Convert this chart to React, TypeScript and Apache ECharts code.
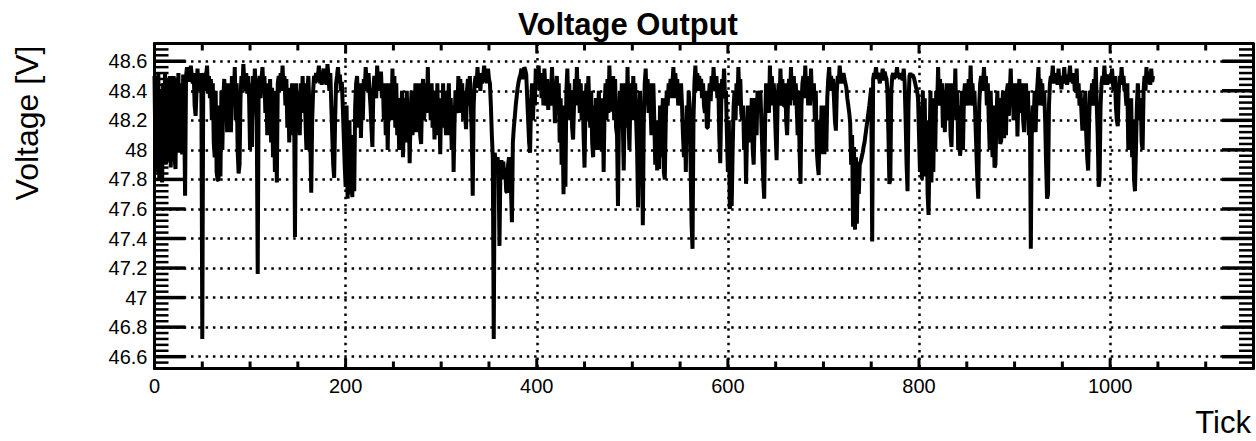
import React, { useEffect, useRef } from "react";
import * as echarts from "echarts";

// Voltage samples [V], one per tick
const volts000 = [
  48.50, 47.95, 48.45, 47.85, 48.52, 47.80, 48.40, 47.90, 47.78, 48.45,
  47.95, 48.52, 47.90, 48.48, 48.00, 47.92, 48.50, 47.88, 48.45, 47.95,
  48.50, 47.95, 47.87, 48.49, 48.00, 48.52, 47.98, 48.45, 48.05, 47.97,
  48.51, 48.30, 47.69, 48.50, 48.56, 48.48, 48.53, 48.46, 48.57, 48.50,
  48.45, 48.52, 48.30, 48.23, 48.40, 48.55, 48.42, 48.48, 48.40, 48.52,
  46.72, 48.45, 48.52, 48.40, 48.50, 48.57, 48.38, 48.50, 48.35, 48.48,
  48.20, 48.45, 48.05, 47.95, 48.40, 47.85, 47.80, 47.79, 48.30, 47.82,
  48.40, 48.00, 48.35, 48.48, 48.30, 48.45, 48.12, 48.40, 48.15, 48.45,
  48.12, 48.50, 48.35, 48.30, 48.56, 48.20, 48.45, 48.00, 47.84, 47.90,
  48.35, 48.50, 48.42, 48.58, 48.45, 48.40, 48.52, 48.38, 48.50, 48.35,
];
const volts100 = [
  48.00, 48.45, 48.02, 48.50, 48.30, 48.55, 48.38, 48.20, 47.16, 48.45,
  48.50, 48.35, 48.48, 48.56, 48.40, 48.50, 48.25, 48.45, 48.10, 48.38,
  48.20, 48.48, 48.05, 48.42, 47.95, 48.30, 47.85, 48.40, 47.78, 48.45,
  48.50, 48.40, 48.52, 48.42, 48.57, 48.40, 48.50, 48.30, 48.48, 48.15,
  48.42, 48.05, 48.40, 48.20, 48.45, 48.10, 48.38, 47.41, 48.45, 48.30,
  48.40, 48.30, 48.10, 48.45, 48.30, 48.50, 48.25, 48.45, 48.20, 48.00,
  48.40, 48.50, 48.30, 48.10, 47.71, 48.20, 48.40, 48.50, 48.45, 48.52,
  48.46, 48.50, 48.57, 48.45, 48.51, 48.44, 48.50, 48.55, 48.45, 48.50,
  48.44, 48.58, 48.50, 48.40, 48.52, 48.30, 48.10, 47.90, 47.81, 48.20,
  48.45, 48.50, 48.56, 48.45, 48.51, 48.40, 48.46, 48.30, 48.10, 47.90,
];
const volts200 = [
  47.75, 48.30, 47.67, 47.80, 48.20, 47.70, 47.90, 47.68, 48.10, 47.72,
  48.30, 48.45, 48.50, 48.30, 48.15, 48.45, 48.08, 48.35, 48.20, 48.48,
  48.40, 48.56, 48.45, 48.40, 48.52, 48.40, 48.30, 48.15, 48.02, 48.40,
  48.50, 48.40, 48.35, 48.57, 48.45, 48.50, 48.40, 48.53, 48.35, 48.45,
  48.20, 48.40, 48.10, 48.45, 48.00, 48.35, 48.23, 48.45, 48.20, 48.55,
  48.25, 48.50, 48.15, 48.45, 48.10, 48.35, 48.00, 48.30, 48.10, 48.40,
  47.95, 48.20, 48.35, 48.05, 48.40, 48.10, 48.30, 47.91, 48.25, 48.40,
  48.10, 48.30, 48.15, 48.45, 48.12, 48.35, 48.15, 48.45, 48.10, 48.04,
  48.35, 48.48, 48.20, 48.30, 48.45, 48.25, 48.56, 48.30, 48.45, 48.20,
  48.45, 48.15, 48.35, 48.07, 48.40, 48.15, 48.45, 48.10, 48.30, 47.97,
];
const volts300 = [
  48.35, 48.15, 48.45, 48.15, 48.30, 48.10, 48.40, 48.20, 48.45, 48.10,
  48.35, 48.00, 48.30, 47.85, 48.20, 48.40, 48.25, 48.30, 48.50, 48.25,
  48.48, 48.30, 48.45, 48.20, 48.40, 48.25, 48.14, 48.40, 48.48, 48.30,
  48.50, 48.30, 48.10, 47.69, 48.30, 48.45, 48.50, 48.42, 48.56, 48.45,
  48.50, 48.40, 48.52, 48.45, 48.50, 48.57, 48.46, 48.51, 48.45, 48.55,
  48.48, 48.45, 48.30, 48.10, 47.95, 46.72, 47.98, 47.92, 47.90, 47.95,
  47.88, 47.35, 47.90, 47.93, 47.85, 47.92, 47.80, 47.88, 47.72, 47.71,
  47.90, 47.95, 47.85, 47.75, 47.51, 48.05, 48.15, 48.22, 48.30, 48.36,
  48.42, 48.46, 48.49, 48.51, 48.55, 48.48, 48.50, 48.56, 48.54, 48.51,
  48.35, 48.20, 48.05, 47.98, 48.30, 48.45, 48.20, 48.40, 48.30, 48.55,
];
const volts400 = [
  48.52, 48.45, 48.57, 48.40, 48.52, 48.35, 48.50, 48.30, 48.55, 48.40,
  48.30, 48.48, 48.27, 48.45, 48.30, 48.40, 48.56, 48.30, 48.45, 48.18,
  48.40, 48.50, 48.30, 48.45, 48.05, 48.35, 47.90, 48.20, 47.70, 48.30,
  47.75, 48.40, 48.55, 48.30, 48.45, 48.20, 48.40, 48.15, 48.07, 48.30,
  48.48, 48.30, 48.56, 48.35, 48.48, 48.25, 48.45, 48.20, 48.40, 48.10,
  47.88, 48.30, 48.45, 48.20, 48.50, 48.30, 48.15, 48.40, 48.05, 47.95,
  48.30, 48.10, 48.35, 48.00, 48.20, 48.40, 48.00, 48.25, 48.10, 48.35,
  47.85, 48.30, 48.45, 48.20, 48.48, 48.25, 48.57, 48.30, 48.26, 48.45,
  48.50, 48.20, 48.48, 48.15, 48.10, 47.62, 48.20, 48.40, 48.15, 48.45,
  48.20, 47.86, 48.30, 48.45, 48.15, 48.56, 48.20, 48.00, 48.35, 48.45,
];
const volts500 = [
  48.20, 48.50, 48.30, 48.45, 48.20, 48.00, 47.61, 48.20, 48.40, 48.10,
  48.00, 47.49, 48.20, 48.45, 48.55, 48.30, 48.48, 48.25, 48.45, 48.30,
  48.10, 48.40, 48.45, 48.20, 47.90, 48.20, 47.86, 48.10, 47.87, 48.30,
  47.95, 48.20, 48.35, 47.85, 47.80, 48.20, 48.40, 48.30, 48.45, 48.35,
  48.48, 48.35, 48.45, 48.56, 48.35, 48.52, 48.40, 48.48, 48.30, 48.45,
  48.35, 48.45, 48.30, 48.10, 47.95, 48.20, 47.85, 48.30, 48.10, 48.40,
  48.30, 47.90, 47.50, 47.33, 48.20, 48.45, 48.57, 48.42, 48.52, 48.40,
  48.50, 48.40, 48.48, 48.35, 48.45, 48.30, 48.25, 48.40, 48.15, 48.15,
  48.35, 48.45, 48.33, 48.50, 48.40, 48.56, 48.42, 48.40, 48.50, 48.35,
  48.45, 48.10, 47.91, 48.30, 48.48, 48.40, 48.55, 48.35, 48.40, 48.10,
];
const volts600 = [
  47.85, 48.20, 47.60, 47.65, 47.62, 48.00, 48.30, 48.40, 48.20, 48.45,
  48.30, 48.56, 48.35, 48.48, 48.25, 48.20, 48.30, 48.00, 48.20, 47.77,
  48.10, 48.30, 48.05, 48.25, 48.15, 48.35, 48.00, 47.90, 48.20, 48.35,
  48.10, 48.40, 48.25, 48.35, 48.40, 48.20, 48.00, 47.80, 47.67, 48.20,
  48.45, 48.30, 48.40, 48.25, 48.57, 48.30, 48.50, 48.35, 48.45, 48.30,
  48.10, 47.93, 48.30, 48.45, 48.30, 48.55, 48.35, 48.48, 48.30, 48.30,
  48.45, 48.20, 48.10, 48.35, 48.48, 48.30, 48.56, 48.35, 48.35, 48.50,
  48.30, 48.45, 48.30, 48.10, 48.40, 48.00, 47.77, 48.30, 48.45, 48.50,
  48.35, 48.57, 48.35, 48.50, 48.30, 48.48, 48.30, 48.55, 48.35, 48.35,
  48.45, 48.20, 48.40, 48.00, 47.90, 47.83, 48.20, 48.00, 48.30, 47.97,
];
const volts700 = [
  48.30, 47.97, 48.20, 48.00, 48.35, 48.48, 48.56, 48.40, 48.50, 48.40,
  48.48, 48.35, 48.20, 48.13, 48.40, 48.50, 48.45, 48.57, 48.48, 48.50,
  48.45, 48.52, 48.48, 48.45, 48.42, 48.35, 48.30, 48.25, 48.18, 47.90,
  48.10, 47.48, 48.02, 47.46, 47.95, 47.50, 47.92, 47.70, 47.90, 47.92,
  47.95, 47.98, 48.02, 48.05, 48.10, 48.15, 48.20, 48.25, 48.30, 48.36,
  48.42, 47.38, 48.48, 48.52, 48.50, 48.56, 48.48, 48.52, 48.50, 48.45,
  48.52, 48.49, 48.55, 48.47, 48.53, 48.50, 48.48, 48.40, 48.10, 47.77,
  47.80, 48.40, 48.50, 48.52, 48.48, 48.51, 48.50, 48.56, 48.49, 48.51,
  48.48, 48.52, 48.50, 48.47, 48.55, 48.45, 48.20, 47.90, 47.72, 48.30,
  48.50, 48.52, 48.49, 48.51, 48.50, 48.48, 48.45, 48.42, 48.40, 48.35,
];
const volts800 = [
  48.10, 47.85, 48.30, 47.80, 48.40, 47.90, 48.35, 47.82, 48.20, 47.70,
  47.56, 48.00, 48.40, 47.78, 48.30, 47.85, 48.35, 48.00, 48.40, 48.30,
  48.56, 48.30, 48.48, 48.30, 48.45, 48.15, 48.40, 48.12, 48.35, 48.45,
  48.30, 48.20, 48.45, 48.10, 48.02, 48.30, 48.45, 48.25, 48.55, 48.20,
  48.40, 48.00, 48.30, 47.96, 48.05, 48.40, 48.00, 48.35, 48.45, 48.30,
  48.45, 48.30, 48.48, 48.30, 48.57, 48.35, 48.45, 48.30, 48.40, 48.20,
  48.00, 47.80, 47.67, 48.30, 48.45, 48.50, 48.40, 48.45, 48.56, 48.40,
  48.50, 48.30, 48.45, 48.20, 48.00, 48.40, 48.10, 47.95, 48.30, 47.88,
  47.90, 48.20, 48.40, 48.10, 48.35, 48.04, 48.06, 48.30, 48.40, 48.08,
  48.20, 48.10, 48.40, 48.45, 48.23, 48.40, 48.55, 48.30, 48.45, 48.20,
];
const volts900 = [
  48.40, 48.20, 48.45, 48.09, 48.35, 48.48, 48.25, 48.30, 48.45, 48.20,
  48.12, 48.35, 48.45, 48.20, 48.40, 48.10, 48.25, 47.33, 48.10, 48.30,
  48.20, 48.40, 48.12, 48.35, 48.45, 48.56, 48.30, 48.48, 48.35, 48.45,
  48.30, 48.40, 48.20, 47.90, 47.67, 47.70, 48.30, 48.45, 48.50, 48.48,
  48.57, 48.45, 48.50, 48.47, 48.52, 48.44, 48.55, 48.45, 48.50, 48.41,
  48.50, 48.46, 48.56, 48.45, 48.50, 48.44, 48.51, 48.49, 48.57, 48.46,
  48.50, 48.45, 48.52, 48.40, 48.40, 48.55, 48.35, 48.45, 48.30, 48.40,
  48.25, 48.13, 48.35, 48.20, 48.40, 48.10, 47.95, 47.86, 48.20, 48.40,
  48.30, 48.45, 48.30, 48.48, 48.35, 48.56, 48.30, 48.10, 47.75, 47.80,
  48.30, 48.45, 48.50, 48.44, 48.57, 48.45, 48.50, 48.44, 48.51, 48.46,
];
const volts1000 = [
  48.50, 48.45, 48.55, 48.44, 48.40, 48.50, 48.30, 48.20, 48.16, 48.40,
  48.50, 48.44, 48.56, 48.45, 48.50, 48.40, 48.40, 48.30, 48.45, 48.00,
  48.30, 48.10, 48.35, 47.95, 48.20, 47.80, 47.72, 48.00, 48.30, 48.45,
  48.30, 48.20, 48.35, 48.05, 48.00, 48.40, 48.50, 48.40, 48.56, 48.45,
  48.50, 48.53, 48.44, 48.55, 48.46, 48.50,
];

const xTickLabels = [0, 200, 400, 600, 800, 1000];
const yTickLabels = [46.6, 46.8, 47, 47.2, 47.4, 47.6, 47.8, 48, 48.2, 48.4, 48.6];

const voltage = [
  ...volts000, ...volts100, ...volts200, ...volts300, ...volts400, ...volts500,
  ...volts600, ...volts700, ...volts800, ...volts900, ...volts1000,
];

export default function App() {
  const ref = useRef<HTMLDivElement>(null);
  useEffect(() => {
    if (!ref.current) return;
    const chart = echarts.init(ref.current, null, { renderer: "svg" });
    const fontFamily = "'Liberation Sans', Arial, Helvetica, sans-serif";
    const black = "#000";
    const dotted = { color: black, width: 2.5, type: [2.5, 4.8] as number[] };
    const frameLine = { show: true, onZero: false, lineStyle: { color: black, width: 3 } };
    const X_MIN = 0, X_MAX = 1149.5, Y_MIN = 46.52, Y_MAX = 48.72;

    // tick marks: [value, isMajor]
    const yTicks: number[][] = [];
    for (let k = 0; k <= 53; k++) {
      const v = Math.round((46.56 + 0.04 * k) * 100) / 100;
      if (v >= Y_MAX) break;
      const major = yTickLabels.some((t) => Math.abs(t - v) < 1e-6) ? 1 : 0;
      yTicks.push([v, major]);
    }
    const xTicks: number[][] = [];
    for (let v = 50; v < X_MAX; v += 50) {
      xTicks.push([v, xTickLabels.includes(v) ? 1 : 0]);
    }

    const xAxisDef = (position: string, labels: boolean, split: boolean) => ({
      type: "value", position, min: X_MIN, max: X_MAX, interval: 200, z: 5,
      axisLine: frameLine,
      axisTick: { show: false },
      axisLabel: labels
        ? {
            show: true, fontSize: 20, fontFamily, color: black, margin: 7,
            showMaxLabel: false,
            formatter: (v: number) => (xTickLabels.includes(v) ? String(v) : ""),
          }
        : { show: false },
      splitLine: split ? { show: true, lineStyle: dotted } : { show: false },
    });
    const yAxisDef = (position: string, labels: boolean, split: boolean) => ({
      type: "value", position, min: Y_MIN, max: Y_MAX, splitNumber: 11,
      minInterval: 0.2, maxInterval: 0.2, z: 5,
      axisLine: frameLine,
      axisTick: { show: false },
      axisLabel: labels
        ? {
            show: true, fontSize: 20, fontFamily, color: black, margin: 7,
            showMinLabel: false, showMaxLabel: false,
            formatter: (v: number) => {
              const r = Math.round(v * 10) / 10;
              return yTickLabels.some((t) => Math.abs(t - r) < 1e-6) && Math.abs(r - v) < 1e-6 ? String(r) : "";
            },
          }
        : { show: false },
      splitLine: split ? { show: true, lineStyle: dotted } : { show: false },
    });

    chart.setOption({
      animation: false,
      backgroundColor: "#fff",
      grid: { left: 154.5, right: 3, top: 43.5, bottom: 72.5, show: false, containLabel: false },
      xAxis: [xAxisDef("bottom", true, true), xAxisDef("top", false, false)],
      yAxis: [yAxisDef("left", true, true), yAxisDef("right", false, false)],
      graphic: [
        {
          type: "text", x: 628, y: 24, z: 10,
          style: { text: "Voltage Output", fontSize: 31, fontWeight: "bold", fontFamily, fill: black, align: "center", verticalAlign: "middle" },
        },
        {
          type: "text", x: 27, y: 123, rotation: Math.PI / 2, z: 10,
          style: { text: "Voltage [V]", fontSize: 32, fontFamily, fill: black, align: "center", verticalAlign: "middle" },
        },
        {
          type: "text", x: 1251, y: 422, z: 10,
          style: { text: "Tick", fontSize: 31, fontFamily, fill: black, align: "right", verticalAlign: "middle" },
        },
      ],
      series: [
        {
          type: "line",
          xAxisIndex: 0,
          yAxisIndex: 0,
          data: voltage.map((v, i) => [i, v]),
          showSymbol: false,
          symbol: "none",
          smooth: false,
          z: 2,
          lineStyle: { color: black, width: 4, join: "bevel" },
        },
        {
          type: "custom",
          name: "yTicks",
          xAxisIndex: 0,
          yAxisIndex: 0,
          silent: true,
          clip: false,
          z: 6,
          data: yTicks,
          renderItem: (_params: any, api: any) => {
            const v = api.value(0);
            const major = api.value(1) === 1;
            const l = api.coord([X_MIN, v]);
            const r = api.coord([X_MAX, v]);
            const len = major ? 31 : 14;
            const w = major ? 3.5 : 2.5;
            return {
              type: "group",
              children: [
                { type: "line", shape: { x1: l[0], y1: l[1], x2: l[0] + len, y2: l[1] }, style: { stroke: black, lineWidth: w } },
                { type: "line", shape: { x1: r[0] - len, y1: r[1], x2: r[0], y2: r[1] }, style: { stroke: black, lineWidth: w } },
              ],
            };
          },
          encode: { x: 0, y: 1 },
        },
        {
          type: "custom",
          name: "xTicks",
          xAxisIndex: 0,
          yAxisIndex: 0,
          silent: true,
          clip: false,
          z: 6,
          data: xTicks,
          renderItem: (_params: any, api: any) => {
            const v = api.value(0);
            const major = api.value(1) === 1;
            const b = api.coord([v, Y_MIN]);
            const t = api.coord([v, Y_MAX]);
            const len = major ? 10 : 7;
            return {
              type: "group",
              children: [
                { type: "line", shape: { x1: b[0], y1: b[1], x2: b[0], y2: b[1] - len }, style: { stroke: black, lineWidth: 3 } },
                { type: "line", shape: { x1: t[0], y1: t[1], x2: t[0], y2: t[1] + len }, style: { stroke: black, lineWidth: 3 } },
              ],
            };
          },
          encode: { x: 0, y: 1 },
        },
      ],
    });
    return () => chart.dispose();
  }, []);
  return (
    <div
      ref={ref}
      style={{ position: "fixed", left: 0, top: 0, width: 1256, height: 441, background: "#fff" }}
    />
  );
}
